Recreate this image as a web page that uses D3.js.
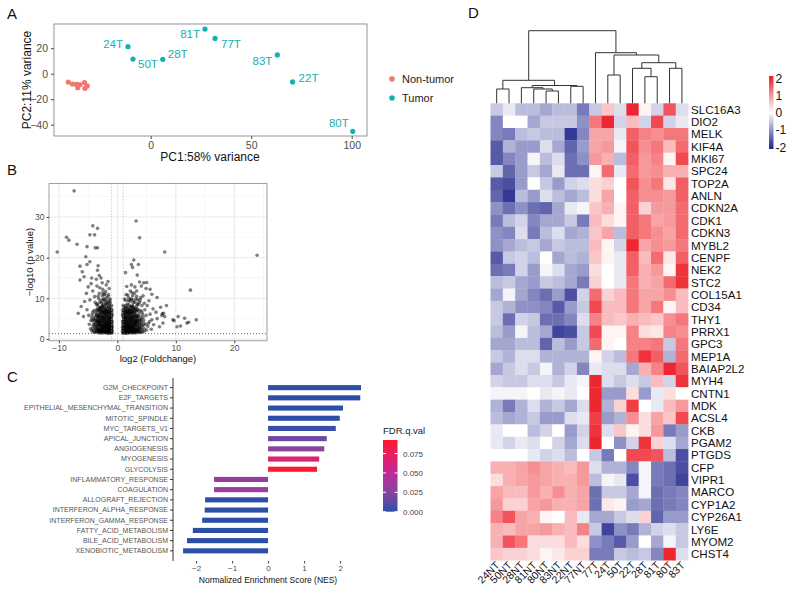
<!DOCTYPE html>
<html>
<head>
<meta charset="utf-8">
<script src="https://cdnjs.cloudflare.com/ajax/libs/d3/7.8.5/d3.min.js"></script>
<style>
body { margin: 0; background: #fff; }
svg { font-family: "Liberation Sans", Arial, sans-serif; }
</style>
</head>
<body>
<svg id="fig" width="794" height="598"></svg>
<script>
// ---------- A: PCA ----------
var pcaSample = ["24T", "50T", "28T", "81T", "77T", "83T", "22T", "80T",
    "24NT", "50NT", "28NT", "81NT", "80NT", "83NT", "22NT", "77NT"];
var pcaGroup = ["Tumor", "Tumor", "Tumor", "Tumor", "Tumor", "Tumor", "Tumor", "Tumor",
    "Non-tumor", "Non-tumor", "Non-tumor", "Non-tumor", "Non-tumor", "Non-tumor", "Non-tumor", "Non-tumor"];
var pcaPC1 = [-11.3, -8.8, 6.0, 27.0, 32.0, 63.0, 70.6, 100.5, -41.0, -38.9, -36.9, -36.3, -35.2, -32.9, -32.7, -31.6];
var pcaPC2 = [21.2, 11.5, 11.3, 35.0, 27.7, 14.7, -6.5, -45.2, -6.6, -8.1, -8.4, -11.0, -8.6, -7.0, -11.5, -9.6];
var pcaGroups = ["Non-tumor", "Tumor"];

// ---------- B: volcano (log2 FC, -log10 p) ----------
var volcanoRaw =
    "-7.4,36.4 -10.3,21.4 -8.7,25 -8.3,24.3 -6.9,23.3 -5.2,22.7 -4.2,27.8 -3.4,27.2 -4.7,25.6 -3.9,25.6 -3.8,22.4 -3.4,22.4 " +
    "3.2,29 3.8,24.9 8.1,21.4 23.9,20.6 12.5,12 8.4,8.2 13.5,4.7 11.5,5.1 10.4,5.5 9.5,4.7 9.7,4.5 10.8,3.2 11.9,3.9 12.2,4.1 10.2,3 7.6,5.8 7.9,6.3 -6.7,6.3 -5.8,5.5 " +
    "-6.4,17.9 -5.2,18.3 -4.7,19 -5.4,20.2 -3.3,18 -3.4,16.9 -6,16.5 -5.7,15.3 -6.4,14.5 -4.4,15 -3.6,14.7 -3.1,15.6 -2.8,15 -5,12.8 -5.3,11.2 -4.2,11.8 -3.5,13 -3.1,11.2 -2.5,12.2 -2,11.7 -1.9,13.3 -3.9,10.4 -4.7,9.6 -5.6,9.2 -6.2,8 -5.2,7.2 -1.6,14.1 -2.6,13.8 -3.0,12.6 -4.5,13.6 -1.4,12.4 -2.3,10.9 " +
    "2.8,19.4 2.4,18.3 3.6,18.3 2.6,17.6 3.4,15.7 1.4,16.3 3.8,14 4.5,13.8 5,13.9 4.1,13 4.9,12.4 3.3,11.8 2.4,13.3 5.6,12.2 5.9,11 6.8,10.2 5.4,9.4 7.4,7.8 6.6,6.6 7.7,6.2 6.8,5 8.1,5.5 5.9,4.7 7.8,3.9 7.2,3 2.2,11.8 1.8,10.8 4.4,10.6 3.9,9.6 5.1,8.2 6.1,7.4 5.6,6.1 4.6,8.8 3.0,12.8 1.6,12.9 " +
    "-1.0,1.5 -1.2,2.1 -0.9,2.8 -1.1,3.4 -1.3,4.0 -1.0,4.6 -1.2,5.3 -0.9,6.0 -1.1,6.8 -1.3,7.5 -1.0,8.3 -1.2,9.1 " +
    "-1.5,1.4 -1.7,2.0 -1.4,2.6 -1.6,3.1 -1.8,3.8 -1.5,4.4 -1.7,5.0 -1.4,5.7 -1.6,6.3 -1.8,7.0 -1.5,7.8 -1.7,8.6 -1.4,9.5 -1.6,10.4 " +
    "-2.0,1.6 -2.2,2.3 -1.9,2.9 -2.1,3.5 -2.3,4.2 -2.0,4.8 -2.2,5.5 -1.9,6.1 -2.1,6.9 -2.3,7.6 -2.0,8.4 -2.2,9.3 -1.9,10.1 -2.1,11.0 " +
    "-2.5,1.5 -2.7,2.2 -2.4,2.8 -2.6,3.3 -2.8,4.0 -2.5,4.7 -2.7,5.3 -2.4,6.0 -2.6,6.6 -2.8,7.3 -2.5,8.0 -2.7,8.9 -2.4,9.7 -2.6,10.6 " +
    "-3.0,1.7 -3.2,2.4 -2.9,3.0 -3.1,3.7 -3.3,4.3 -3.0,5.0 -3.2,5.8 -2.9,6.5 -3.1,7.2 -3.3,8.1 -3.0,9.0 -3.2,9.9 " +
    "-3.5,1.6 -3.7,2.5 -3.4,3.2 -3.6,4.0 -3.8,4.8 -3.5,5.6 -3.7,6.4 -3.4,7.4 -3.6,8.5 " +
    "-4.0,2.0 -4.2,3.0 -3.9,3.9 -4.1,4.9 -4.3,6.0 -4.0,7.0 -4.6,2.5 -4.8,3.6 -4.5,4.6 -4.9,5.8 " +
    "-0.85,1.9 -1.05,2.5 -0.95,3.1 -1.15,3.8 -0.9,4.3 -1.1,5.0 -0.95,5.6 -1.2,6.3 -0.9,7.1 -1.1,7.9 -1.3,8.7 " +
    "-1.35,1.8 -1.55,2.4 -1.3,3.0 -1.5,3.6 -1.65,4.2 -1.35,4.9 -1.55,5.5 -1.3,6.2 -1.5,6.8 -1.7,7.4 -1.45,8.2 -1.6,9.0 " +
    "-1.85,1.7 -2.05,2.6 -1.85,3.3 -2.0,3.9 -2.15,4.5 -1.9,5.2 -2.1,5.8 -1.85,6.6 -2.05,7.2 -2.2,8.0 -1.95,8.8 " +
    "-2.35,1.9 -2.55,2.5 -2.3,3.1 -2.45,3.8 -2.65,4.4 -2.35,5.1 -2.55,5.7 -2.3,6.4 -2.5,7.0 -2.65,7.8 -2.4,8.5 " +
    "-2.85,1.8 -3.05,2.7 -2.8,3.4 -2.95,4.1 -3.15,4.7 -2.85,5.4 -3.05,6.1 -2.8,6.9 -2.95,7.7 " +
    "-3.3,2.0 -3.45,2.8 -3.25,3.6 -3.45,4.5 -3.3,5.3 -3.5,6.1 " +
    "-0.95,1.4 -1.25,1.6 -1.6,1.5 -1.9,1.45 -2.3,1.6 -2.7,1.5 -3.1,1.45 -1.05,2.0 -1.4,2.2 -1.8,2.3 -2.2,2.0 -2.6,2.6 -2.9,2.2 -1.0,2.4 -1.3,2.7 -1.7,2.7 -2.1,2.9 " +
    "-1.1,1.7 -1.4,1.9 -1.7,1.7 -2.0,2.0 -2.4,2.1 -2.8,1.9 -3.2,2.0 -3.6,2.2 -4.0,1.6 -4.4,2.0 " +
    "-1.0,3.0 -1.3,3.3 -1.6,3.5 -1.9,3.7 -2.3,3.6 -2.7,3.5 -3.0,3.9 -3.4,4.1 -3.8,3.5 -4.3,4.4 " +
    "-1.1,4.2 -1.4,4.6 -1.8,4.5 -2.2,4.9 -2.6,5.0 -3.0,4.5 -3.4,5.0 -3.9,5.4 -4.4,5.3 " +
    "-1.0,5.9 -1.3,5.4 -1.7,6.0 -2.0,6.4 -2.4,6.6 -2.8,6.2 -3.2,6.8 -3.6,7.1 -4.2,6.6 " +
    "-1.1,7.3 -1.4,7.0 -1.8,7.8 -2.2,7.3 -2.6,8.2 -3.0,7.6 -3.4,8.6 -3.8,9.0 " +
    "-1.2,9.8 -1.5,10.9 -1.9,9.4 -2.3,9.9 -2.8,9.5 -3.3,10.5 -2.5,11.4 " +
    "-1.05,1.55 -1.35,1.45 -1.65,1.85 -1.95,1.6 -2.25,1.75 -2.55,1.85 -2.85,1.6 -3.2,1.75 -3.5,1.95 -3.8,1.7 " +
    "-1.0,2.25 -1.3,2.45 -1.6,2.2 -1.9,2.5 -2.2,2.65 -2.5,2.35 -2.8,2.55 -3.1,2.3 -3.4,2.5 -3.8,2.8 -4.2,2.4 " +
    "-0.95,3.6 -1.25,3.0 -1.55,3.25 -1.85,3.05 -2.15,3.3 -2.45,3.2 -2.75,3.0 -3.05,3.35 -3.35,3.5 -3.7,3.2 -4.1,3.5 " +
    "-1.0,4.0 -1.3,4.3 -1.6,4.0 -1.9,4.4 -2.2,4.1 -2.5,4.3 -2.8,4.6 -3.1,4.2 -3.5,4.4 -3.9,4.6 " +
    "-1.05,5.2 -1.35,5.0 -1.65,5.3 -1.95,5.6 -2.25,5.2 -2.55,5.4 -2.9,5.7 -3.25,5.5 -3.6,5.8 " +
    "-1.0,6.5 -1.3,6.7 -1.6,6.5 -1.9,6.9 -2.2,6.3 -2.5,6.8 -2.8,7.6 -3.3,7.0 " +
    "1.0,1.5 1.2,2.1 0.9,2.8 1.1,3.4 1.3,4.0 1.0,4.6 1.2,5.3 0.9,6.0 1.1,6.8 1.3,7.5 1.0,8.3 " +
    "1.5,1.4 1.7,2.0 1.4,2.6 1.6,3.1 1.8,3.8 1.5,4.4 1.7,5.0 1.4,5.7 1.6,6.3 1.8,7.0 1.5,7.8 1.7,8.6 1.4,9.5 " +
    "2.0,1.6 2.2,2.3 1.9,2.9 2.1,3.5 2.3,4.2 2.0,4.8 2.2,5.5 1.9,6.1 2.1,6.9 2.3,7.6 2.0,8.4 2.2,9.3 1.9,10.1 " +
    "2.5,1.5 2.7,2.2 2.4,2.8 2.6,3.3 2.8,4.0 2.5,4.7 2.7,5.3 2.4,6.0 2.6,6.6 2.8,7.3 2.5,8.0 2.7,8.9 2.4,9.7 2.6,10.6 " +
    "3.0,1.7 3.2,2.4 2.9,3.0 3.1,3.7 3.3,4.3 3.0,5.0 3.2,5.8 2.9,6.5 3.1,7.2 3.3,8.1 3.0,9.0 3.2,9.9 2.9,11.2 " +
    "3.5,1.6 3.7,2.5 3.4,3.2 3.6,4.0 3.8,4.8 3.5,5.6 3.7,6.4 3.4,7.4 3.6,8.5 3.5,9.6 " +
    "4.0,2.0 4.2,3.0 3.9,3.9 4.1,4.9 4.3,6.0 4.0,7.0 4.2,8.2 4.6,2.5 4.8,3.6 4.5,4.6 4.9,5.8 4.7,7.2 5.2,3.1 5.5,4.3 5.8,2.4 6.2,3.5 " +
    "0.85,1.9 1.05,2.5 0.95,3.1 1.15,3.8 0.9,4.3 1.1,5.0 0.95,5.6 1.2,6.3 0.9,7.1 1.1,7.9 " +
    "1.35,1.8 1.55,2.4 1.3,3.0 1.5,3.6 1.65,4.2 1.35,4.9 1.55,5.5 1.3,6.2 1.5,6.8 1.7,7.4 1.45,8.2 " +
    "1.85,1.7 2.05,2.6 1.85,3.3 2.0,3.9 2.15,4.5 1.9,5.2 2.1,5.8 1.85,6.6 2.05,7.2 2.2,8.0 " +
    "2.35,1.9 2.55,2.5 2.3,3.1 2.45,3.8 2.65,4.4 2.35,5.1 2.55,5.7 2.3,6.4 2.5,7.0 2.65,7.8 " +
    "2.85,1.8 3.05,2.7 2.8,3.4 2.95,4.1 3.15,4.7 2.85,5.4 3.05,6.1 2.8,6.9 " +
    "3.3,2.0 3.45,2.8 3.25,3.6 3.45,4.5 3.3,5.3 3.9,2.6 4.4,3.3 4.1,4.2 " +
    "0.95,1.4 1.25,1.6 1.6,1.5 1.9,1.45 2.3,1.6 2.7,1.5 3.1,1.45 1.05,2.0 1.4,2.2 1.8,2.3 2.2,2.0 2.6,2.6 2.9,2.2 1.0,2.4 1.3,2.7 1.7,2.7 2.1,2.9 3.6,1.8 4.3,1.7 " +
    "1.1,1.7 1.4,1.9 1.7,1.7 2.0,2.0 2.4,2.1 2.8,1.9 3.2,2.0 3.6,2.2 4.0,1.6 4.6,1.9 5.0,2.2 " +
    "1.0,3.0 1.3,3.3 1.6,3.5 1.9,3.7 2.3,3.6 2.7,3.5 3.0,3.9 3.4,4.1 3.8,3.5 4.5,3.9 5.3,3.8 " +
    "1.1,4.2 1.4,4.6 1.8,4.5 2.2,4.9 2.6,5.0 3.0,4.5 3.4,5.0 3.9,5.4 4.4,5.3 " +
    "1.0,5.9 1.3,5.4 1.7,6.0 2.0,6.4 2.4,6.6 2.8,6.2 3.2,6.8 3.6,7.1 4.2,6.6 " +
    "1.1,7.3 1.4,7.0 1.8,7.8 2.2,7.3 2.6,8.2 3.0,7.6 3.4,8.6 3.8,9.0 4.0,10.2 " +
    "1.2,9.8 1.5,10.9 1.9,9.4 2.3,9.9 2.8,9.5 3.3,10.5 2.5,11.4 " +
    "1.05,1.55 1.35,1.45 1.65,1.85 1.95,1.6 2.25,1.75 2.55,1.85 2.85,1.6 3.2,1.75 3.5,1.95 3.8,1.7 " +
    "1.0,2.25 1.3,2.45 1.6,2.2 1.9,2.5 2.2,2.65 2.5,2.35 2.8,2.55 3.1,2.3 3.4,2.5 3.8,2.8 4.2,2.4 " +
    "0.95,3.6 1.25,3.0 1.55,3.25 1.85,3.05 2.15,3.3 2.45,3.2 2.75,3.0 3.05,3.35 3.35,3.5 3.7,3.2 4.1,3.5 " +
    "1.0,4.0 1.3,4.3 1.6,4.0 1.9,4.4 2.2,4.1 2.5,4.3 2.8,4.6 3.1,4.2 3.5,4.4 3.9,4.6 " +
    "1.05,5.2 1.35,5.0 1.65,5.3 1.95,5.6 2.25,5.2 2.55,5.4 2.9,5.7 3.25,5.5 3.6,5.8 " +
    "1.0,6.5 1.3,6.7 1.6,6.5 1.9,6.9 2.2,6.3 2.5,6.8 2.8,7.6 3.3,7.0";
var fcCut = 1;
var pCut = 1.3;

// ---------- C: GSEA ----------
var gseaTerm = ["G2M_CHECKPOINT", "E2F_TARGETS", "EPITHELIAL_MESENCHYMAL_TRANSITION", "MITOTIC_SPINDLE",
    "MYC_TARGETS_V1", "APICAL_JUNCTION", "ANGIOGENESIS", "MYOGENESIS", "GLYCOLYSIS",
    "INFLAMMATORY_RESPONSE", "COAGULATION", "ALLOGRAFT_REJECTION", "INTERFERON_ALPHA_RESPONSE",
    "INTERFERON_GAMMA_RESPONSE", "FATTY_ACID_METABOLISM", "BILE_ACID_METABOLISM", "XENOBIOTIC_METABOLISM"];
var gseaNES = [2.58, 2.56, 2.08, 1.99, 1.88, 1.63, 1.56, 1.42, 1.36, -1.5, -1.5, -1.75, -1.76, -1.83, -2.09, -2.25, -2.36];
var gseaFDR = [0.000, 0.000, 0.000, 0.000, 0.003, 0.018, 0.028, 0.068, 0.092, 0.034, 0.034, 0.000, 0.000, 0.000, 0.000, 0.000, 0.000];
var fdrTicks = [0.000, 0.025, 0.050, 0.075];
var nesTicks = [-2, -1, 0, 1, 2];

// ---------- D: heatmap ----------
var hmSamples = ["24NT", "50NT", "28NT", "81NT", "80NT", "83NT", "22NT", "77NT",
    "77T", "24T", "50T", "22T", "28T", "81T", "80T", "83T"];
var hmGenes = ["SLC16A3", "DIO2", "MELK", "KIF4A", "MKI67", "SPC24", "TOP2A", "ANLN", "CDKN2A", "CDK1",
    "CDKN3", "MYBL2", "CENPF", "NEK2", "STC2", "COL15A1", "CD34", "THY1", "PRRX1", "GPC3", "MEP1A",
    "BAIAP2L2", "MYH4", "CNTN1", "MDK", "ACSL4", "CKB", "PGAM2", "PTGDS", "CFP", "VIPR1", "MARCO",
    "CYP1A2", "CYP26A1", "LY6E", "MYOM2", "CHST4"];
var hmValues = [
    [-0.5, -0.2, -0.6, -0.6, -0.8, -0.6, -0.6, -1.2, -0.5, 0.5, -0.3, 1.9, 0.1, -0.4, 1.5, -0.3],
    [-1.1, 0.0, 0.0, -0.8, -0.5, -0.5, -0.5, -1.0, 1.2, 1.9, -0.4, 0.6, -0.4, 1.6, -0.4, -0.2],
    [-1.1, -1.2, -0.6, -0.5, -0.6, -0.6, -1.8, -1.1, 0.8, 0.8, -0.2, 1.4, 1.1, 1.0, 1.2, 1.2],
    [-1.5, -0.7, -0.9, -0.9, -0.3, -0.8, -1.4, -0.9, 0.8, 0.9, -0.1, 1.5, 1.0, 1.2, 0.6, 1.3],
    [-1.5, -1.1, -0.9, -0.1, -0.6, -0.3, -1.3, -1.0, 0.9, 0.7, -0.6, 1.4, 0.9, 1.1, 0.1, 1.6],
    [-0.5, -1.4, -0.9, -0.5, -0.8, -0.2, -1.3, -1.3, 0.1, 1.3, -0.2, 1.3, 0.9, 1.0, 0.7, 0.7],
    [-1.5, -1.6, -0.9, 0.0, -0.5, -0.9, -0.4, -0.3, 0.3, 0.4, 0.0, 1.5, 1.0, 1.2, 0.2, 1.4],
    [-1.4, -1.8, -0.6, -0.9, -0.3, -0.6, -0.8, -0.6, 0.3, 0.8, 0.0, 1.4, 1.0, 1.0, 0.9, 1.4],
    [-1.0, -1.3, -1.0, -1.3, -1.4, -0.8, -0.2, -0.1, 0.5, 0.7, 0.1, 1.4, 0.4, 0.9, 0.9, 1.3],
    [-1.2, -0.6, -0.4, -1.1, -0.8, -0.8, -0.5, -1.2, 0.6, 0.3, 0.1, 1.4, 1.2, 0.8, 0.9, 1.3],
    [-1.0, -1.1, -0.3, -1.2, -0.6, -0.3, -0.8, -0.7, 0.5, 0.8, -0.6, 1.4, 1.2, 1.0, 0.8, 1.3],
    [-1.0, -0.8, -0.6, -0.5, -0.8, -0.5, -0.6, -0.6, 0.6, 0.1, -0.4, 1.9, 0.8, 1.0, 0.9, 1.2],
    [-1.5, -0.5, -0.4, -0.6, 0.0, -0.8, -0.6, -0.7, 0.5, 0.1, -0.2, 1.4, 0.6, 1.3, 0.2, 1.4],
    [-1.3, -1.2, -0.4, -0.9, -0.1, -0.3, -0.8, -0.9, 0.3, 0.0, -0.2, 1.4, 0.7, 0.9, 0.1, 1.8],
    [-0.6, -0.5, -0.8, -0.9, -0.5, -0.6, -0.8, -1.2, 0.4, 0.0, -0.2, 1.2, 0.7, 0.8, 1.3, 1.8],
    [-0.8, -0.1, -0.8, -1.1, -1.3, -0.9, -1.6, -0.4, 1.3, 0.4, 0.6, 1.2, 0.8, 0.8, 1.0, 0.6],
    [-0.5, -0.7, -1.0, -1.0, -1.1, -1.5, -0.9, -0.5, 1.6, 0.6, 0.6, 1.2, 0.8, 1.2, 0.1, 0.6],
    [-0.5, -1.3, -0.4, -0.5, -1.3, -1.3, -1.1, -0.3, 1.1, 0.6, 0.5, 0.7, 0.6, 0.5, 1.0, 1.2],
    [-0.6, -0.9, -0.1, -0.6, -0.8, -1.7, -1.6, -0.5, 1.6, 0.1, 0.1, 1.1, 0.3, 0.2, 1.1, 1.0],
    [-0.8, -0.8, -0.6, -0.6, -1.4, -0.6, -0.9, -0.5, 1.3, 0.1, 0.0, 1.1, 1.1, 1.2, -0.5, 1.2],
    [-0.5, -0.7, -0.3, -0.3, -0.7, -0.7, -0.7, -0.7, 0.1, -0.4, -0.6, 1.2, 1.8, 1.4, -0.7, 1.3],
    [-0.8, -0.5, -0.3, -0.5, -0.1, -0.7, -0.4, -1.1, -0.2, -0.3, -0.3, -0.8, 0.7, 1.1, 1.9, 1.5],
    [-0.4, -0.5, -0.5, -0.3, -0.3, -0.5, -0.2, -0.1, 1.9, -0.3, -0.5, -0.3, -0.5, 0.6, -0.4, 1.8],
    [-0.1, -0.1, -0.1, 0.0, -0.2, -0.1, -0.2, 0.0, 1.9, -0.9, -0.9, 0.3, -0.9, -0.2, 0.3, 0.0],
    [-0.7, -1.2, -0.7, -0.3, -0.7, -0.5, -0.8, -0.3, 1.9, -0.7, 0.4, 1.7, 0.0, -0.2, 0.6, 0.9],
    [-0.6, -0.8, -0.7, -0.5, -0.9, -0.9, -0.3, -0.2, 1.7, -0.9, -0.7, 1.0, 0.3, 0.8, 0.5, 1.6],
    [-0.2, 0.0, 0.0, -0.6, -0.4, 0.0, -0.9, -0.4, 1.8, -0.3, 0.5, 0.1, 0.3, 0.9, -1.2, -0.9],
    [-0.2, -0.4, -0.2, -0.3, 0.0, -0.4, -0.8, -0.3, 1.9, 0.0, -1.0, -0.4, 1.8, 0.4, -0.3, -0.8],
    [0.0, 0.0, 0.0, -0.2, -0.4, -0.3, -0.6, 0.0, -0.5, -1.2, 0.0, 1.6, 1.6, 1.5, -0.6, -1.6],
    [0.7, 0.7, 0.8, 1.0, 0.8, 0.7, 0.6, 0.9, -0.3, -0.7, -0.7, -1.1, -0.1, -1.2, -1.3, -1.6],
    [0.3, 0.7, 0.8, 0.9, 0.8, 0.7, 0.7, 0.9, -0.6, -0.1, -0.2, -1.6, -0.1, -1.2, -1.3, -1.7],
    [0.8, 0.6, 0.6, 0.9, 0.7, 1.0, 0.7, 0.8, -1.3, -0.5, -0.5, -0.8, -0.1, -1.3, -1.2, -1.1],
    [0.9, 0.4, 0.4, 0.8, 0.9, 0.7, 0.7, 0.8, -1.3, 0.2, 0.1, -0.9, -0.8, -1.3, -1.2, -1.1],
    [1.1, 1.5, 0.8, 0.7, 0.1, 0.0, 0.6, -0.2, -0.8, -0.8, -0.5, -0.3, 0.4, -1.4, -0.9, -0.9],
    [0.7, 0.6, 0.8, 0.8, 0.9, 0.7, 0.6, 1.1, -0.5, -1.7, -1.0, -1.2, -0.7, -0.4, -0.3, -0.5],
    [0.7, 1.5, 1.2, 0.3, 0.3, 0.3, 0.6, 0.3, -1.0, -1.2, -1.5, -0.9, 0.0, -0.8, -0.1, -0.5],
    [0.5, 0.4, 0.4, 0.3, 0.1, 0.2, 0.4, 0.4, -1.2, -1.2, -0.5, -0.6, -0.5, -1.1, 1.9, -0.3]
];
// column dendrogram: leaves are indexes into hmSamples, h = merge height
var colTree = {h: 72.6, c: [
    {h: 23, c: [
        {h: 14.3, c: [0, 1]},
        {h: 17.8, c: [
            {h: 15.6, c: [2, {h: 14.3, c: [3, {h: 12.3, c: [4, 5]}]}]},
            {h: 17.0, c: [6, 7]}
        ]}
    ]},
    {h: 50.6, c: [8, {h: 48.3, c: [
        {h: 28.3, c: [9, 10]},
        {h: 40.6, c: [
            {h: 35, c: [11, {h: 26.6, c: [12, 13]}]},
            {h: 35, c: [14, 15]}
        ]}
    ]}]}
]};
var hmLegendTicks = [2, 1, 0, -1, -2];

// ---------- drawing ----------
var svg = d3.select("#fig");
var teal = "#14b0b4", salmon = "#f2776f";

function panelLabel(t, x, y) {
    svg.append("text").attr("x", x).attr("y", y).attr("font-size", 15).attr("fill", "#111").text(t);
}

function styleAxis(g, fs) {
    g.select(".domain").remove();
    g.selectAll(".tick line").attr("stroke", "#444");
    g.selectAll(".tick text").attr("fill", "#4d4d4d").attr("font-size", fs).attr("font-family", null);
}

// ---- panel A ----
drawPCA();
function drawPCA() {
    var x = d3.scaleLinear().domain([-48.1, 107.6]).range([54, 367]);
    var y = d3.scaleLinear().domain([-48.9, 39]).range([136, 24]);
    var col = d3.scaleOrdinal().domain(pcaGroups).range([salmon, teal]);
    var g = svg.append("g");
    g.append("g").attr("transform", "translate(0,136)")
        .call(d3.axisBottom(x).tickValues([0, 50, 100]).tickSize(3).tickPadding(3))
        .call(styleAxis, 10.5);
    g.append("g").attr("transform", "translate(54,0)")
        .call(d3.axisLeft(y).tickValues([-40, -20, 0, 20]).tickSize(3).tickPadding(3))
        .call(styleAxis, 10.5);
    g.append("rect").attr("x", 54).attr("y", 24).attr("width", 313).attr("height", 112)
        .attr("fill", "none").attr("stroke", "#7a7a7a").attr("stroke-width", 0.8);
    var idx = d3.range(pcaSample.length);
    g.selectAll("circle.pca").data(idx).enter().append("circle")
        .attr("cx", i => x(pcaPC1[i])).attr("cy", i => y(pcaPC2[i]))
        .attr("r", 2.6).attr("fill", i => col(pcaGroup[i]));
    // label nudges (px) for the tumour samples
    var nudge = {
        "24T": [-5, 1, "end"], "50T": [5, 9, "start"], "28T": [5, -1, "start"], "81T": [-5, 9, "end"],
        "77T": [6, 10, "start"], "83T": [-5, 10, "end"], "22T": [6, 0, "start"], "80T": [-4, -4, "end"]
    };
    g.selectAll("text.lab").data(idx.filter(i => pcaGroup[i] === "Tumor")).enter().append("text")
        .attr("x", i => x(pcaPC1[i]) + nudge[pcaSample[i]][0])
        .attr("y", i => y(pcaPC2[i]) + nudge[pcaSample[i]][1])
        .attr("text-anchor", i => nudge[pcaSample[i]][2])
        .attr("font-size", 11.5).attr("fill", teal).text(i => pcaSample[i]);
    svg.append("text").attr("x", 210).attr("y", 161).attr("text-anchor", "middle")
        .attr("font-size", 12).attr("fill", "#111").text("PC1:58% variance");
    svg.append("text").attr("transform", "translate(31,80) rotate(-90)").attr("text-anchor", "middle")
        .attr("font-size", 12).attr("fill", "#111").text("PC2:11% variance");
    var leg = svg.append("g");
    pcaGroups.forEach(function(k, i) {
        leg.append("circle").attr("cx", 392).attr("cy", 79 + i * 19).attr("r", 2.8).attr("fill", col(k));
        leg.append("text").attr("x", 402).attr("y", 83 + i * 19).attr("font-size", 11).attr("fill", "#222").text(k);
    });
    panelLabel("A", 7, 19);
}

// ---- panel B ----
drawVolcano();
function drawVolcano() {
    var pts = volcanoRaw.trim().split(/\s+/).map(function(s) {
        var p = s.split(",");
        return {fc: +p[0], lp: +p[1]};
    });
    var x = d3.scaleLinear().domain([-11.7, 25.6]).range([49, 267]);
    var y = d3.scaleLinear().domain([-0.45, 38.2]).range([340.8, 183.6]);
    var g = svg.append("g");
    var minorX = [-5, 5, 15, 25], minorY = [5, 15, 25, 35];
    g.selectAll("line.mx").data(minorX).enter().append("line")
        .attr("x1", d => x(d)).attr("x2", d => x(d)).attr("y1", 183.6).attr("y2", 340.8)
        .attr("stroke", "#f2f2f2").attr("stroke-width", 0.6);
    g.selectAll("line.my").data(minorY).enter().append("line")
        .attr("y1", d => y(d)).attr("y2", d => y(d)).attr("x1", 49).attr("x2", 267)
        .attr("stroke", "#f2f2f2").attr("stroke-width", 0.6);
    g.selectAll("line.gx").data([-10, 0, 10, 20]).enter().append("line")
        .attr("x1", d => x(d)).attr("x2", d => x(d)).attr("y1", 183.6).attr("y2", 340.8)
        .attr("stroke", "#e6e6e6").attr("stroke-width", 0.9);
    g.selectAll("line.gy").data([0, 10, 20, 30]).enter().append("line")
        .attr("y1", d => y(d)).attr("y2", d => y(d)).attr("x1", 49).attr("x2", 267)
        .attr("stroke", "#e6e6e6").attr("stroke-width", 0.9);
    g.selectAll("circle").data(pts).enter().append("circle")
        .attr("cx", d => x(d.fc)).attr("cy", d => y(d.lp)).attr("r", 1.8)
        .attr("fill", "#000").attr("fill-opacity", 0.5);
    g.selectAll("line.vcut").data([-fcCut, fcCut]).enter().append("line")
        .attr("x1", d => x(d)).attr("x2", d => x(d)).attr("y1", 183.6).attr("y2", 340.8)
        .attr("stroke", "#9cc455").attr("stroke-width", 0.8).attr("stroke-dasharray", "1,2");
    g.append("line").attr("x1", 49).attr("x2", 267).attr("y1", y(pCut)).attr("y2", y(pCut))
        .attr("stroke", "#2b6a8f").attr("stroke-width", 0.9).attr("stroke-dasharray", "1,2");
    g.append("rect").attr("x", 49).attr("y", 183.6).attr("width", 218).attr("height", 157.2)
        .attr("fill", "none").attr("stroke", "#888").attr("stroke-width", 0.8);
    g.append("g").attr("transform", "translate(0,340.8)")
        .call(d3.axisBottom(x).tickValues([-10, 0, 10, 20]).tickSize(2.5).tickPadding(2))
        .call(styleAxis, 8.5);
    g.append("g").attr("transform", "translate(49,0)")
        .call(d3.axisLeft(y).tickValues([0, 10, 20, 30]).tickSize(2.5).tickPadding(2))
        .call(styleAxis, 8.5);
    svg.append("text").attr("x", 158).attr("y", 362).attr("text-anchor", "middle")
        .attr("font-size", 9.5).attr("fill", "#111").text("log2 (Foldchange)");
    svg.append("text").attr("transform", "translate(33,262) rotate(-90)").attr("text-anchor", "middle")
        .attr("font-size", 9.5).attr("fill", "#111").text("\u2212log10 (p value)");
    panelLabel("B", 7, 175);
}

// ---- panel C ----
drawGsea();
function drawGsea() {
    var x = d3.scaleLinear().domain([-2.64, 2.83]).range([173, 370]);
    var y = d3.scaleBand().domain(gseaTerm).range([380, 558.5]).padding(0.5);
    var fdrMax = 0.0925;
    var col = d3.scaleLinear().domain([0, 0.05, fdrMax]).range(["#2b4ea6", "#c0289a", "#ff1a2a"])
        .interpolate(d3.interpolateLab);
    var g = svg.append("g");
    var idx = d3.range(gseaTerm.length);
    g.selectAll("rect.bar").data(idx).enter().append("rect")
        .attr("x", i => x(Math.min(0, gseaNES[i])))
        .attr("width", i => Math.abs(x(gseaNES[i]) - x(0)))
        .attr("y", i => y(gseaTerm[i])).attr("height", y.bandwidth())
        .attr("fill", i => col(gseaFDR[i]));
    var ya = g.append("g").attr("transform", "translate(173,0)")
        .call(d3.axisLeft(y).tickSize(3).tickPadding(2));
    ya.select(".domain").attr("stroke", "#333").attr("d", "M0,378V561");
    ya.selectAll(".tick line").attr("stroke", "#333");
    ya.selectAll(".tick text").attr("fill", "#555").attr("font-size", 7).attr("font-family", null);
    g.append("g").attr("transform", "translate(0,561)")
        .call(d3.axisBottom(x).tickValues(nesTicks).tickFormat(d3.format("d")).tickSize(2.5).tickPadding(2))
        .call(styleAxis, 8);
    svg.append("text").attr("x", 268).attr("y", 583).attr("text-anchor", "middle")
        .attr("font-size", 8.5).attr("fill", "#111").text("Normalized Enrichment Score (NES)");
    // colour bar
    var ly = d3.scaleLinear().domain([0, fdrMax]).range([511.7, 440]);
    var defs = svg.append("defs");
    var grad = defs.append("linearGradient").attr("id", "fdrGrad")
        .attr("x1", 0).attr("y1", 1).attr("x2", 0).attr("y2", 0);
    d3.range(0, 1.0001, 0.1).forEach(function(t) {
        grad.append("stop").attr("offset", t).attr("stop-color", col(t * fdrMax));
    });
    g.append("rect").attr("x", 383).attr("y", 440).attr("width", 14.5).attr("height", 71.7)
        .attr("fill", "url(#fdrGrad)");
    fdrTicks.forEach(function(v) {
        g.append("line").attr("x1", 383).attr("x2", 386).attr("y1", ly(v)).attr("y2", ly(v)).attr("stroke", "#fff");
        g.append("line").attr("x1", 394.5).attr("x2", 397.5).attr("y1", ly(v)).attr("y2", ly(v)).attr("stroke", "#fff");
        g.append("text").attr("x", 403).attr("y", ly(v) + 3).attr("font-size", 8).attr("fill", "#444")
            .text(d3.format(".3f")(v));
    });
    g.append("text").attr("x", 383).attr("y", 434).attr("font-size", 9.5).attr("fill", "#222").text("FDR.q.val");
    panelLabel("C", 7, 382);
}

// ---- panel D ----
drawHeatmap();
function drawHeatmap() {
    var x = d3.scaleBand().domain(d3.range(hmSamples.length)).range([490.5, 688.1]);
    var y = d3.scaleBand().domain(d3.range(hmGenes.length)).range([103.3, 560.2]);
    var col = d3.scaleLinear().domain([-2, 0, 2]).range(["#1d238a", "#ffffff", "#ec1c24"]).clamp(true);
    var g = svg.append("g");
    hmValues.forEach(function(row, r) {
        g.selectAll("rect.r" + r).data(row).enter().append("rect")
            .attr("x", (v, c) => x(c)).attr("y", y(r))
            .attr("width", x.bandwidth() + 0.3).attr("height", y.bandwidth() + 0.3)
            .attr("fill", v => col(v));
    });
    g.selectAll("text.gene").data(hmGenes).enter().append("text")
        .attr("x", 691).attr("y", (d, i) => y(i) + y.bandwidth() / 2 + 4.2)
        .attr("font-size", 11.6).attr("fill", "#111").text(d => d);
    g.selectAll("text.samp").data(hmSamples).enter().append("text")
        .attr("transform", (d, i) => "translate(" + (x(i) + x.bandwidth() / 2 + 3.5) + ",566) rotate(-45)")
        .attr("text-anchor", "end").attr("font-size", 10.5).attr("fill", "#111").text(d => d);

    // dendrogram
    var hy = d3.scaleLinear().domain([0, 72.6]).range([103.3, 30.7]);
    var dg = g.append("g").attr("stroke", "#333").attr("stroke-width", 1).attr("fill", "none");
    function walk(node) {
        if (typeof node === "number") return {x: x(node) + x.bandwidth() / 2, h: 0};
        var kids = node.c.map(walk);
        kids.forEach(function(k) {
            dg.append("line").attr("x1", k.x).attr("x2", k.x).attr("y1", hy(k.h)).attr("y2", hy(node.h));
        });
        dg.append("line").attr("x1", kids[0].x).attr("x2", kids[1].x).attr("y1", hy(node.h)).attr("y2", hy(node.h));
        return {x: (kids[0].x + kids[1].x) / 2, h: node.h};
    }
    walk(colTree);

    // legend
    var ly = d3.scaleLinear().domain([-2, 2]).range([147, 78]);
    var defs = svg.append("defs");
    var grad = defs.append("linearGradient").attr("id", "hmGrad")
        .attr("x1", 0).attr("y1", 1).attr("x2", 0).attr("y2", 0);
    d3.range(-2, 2.001, 0.5).forEach(function(v) {
        grad.append("stop").attr("offset", (v + 2) / 4).attr("stop-color", col(v));
    });
    g.append("rect").attr("x", 769).attr("y", 76).attr("width", 4.5).attr("height", 73)
        .attr("fill", "url(#hmGrad)");
    g.selectAll("text.lg").data(hmLegendTicks).enter().append("text")
        .attr("x", 775.5).attr("y", d => ly(d) + 4.5).attr("font-size", 12).attr("fill", "#111")
        .text(d => d < 0 ? "-" + Math.abs(d) : d);
    panelLabel("D", 468, 18);
}
</script>
</body>
</html>
